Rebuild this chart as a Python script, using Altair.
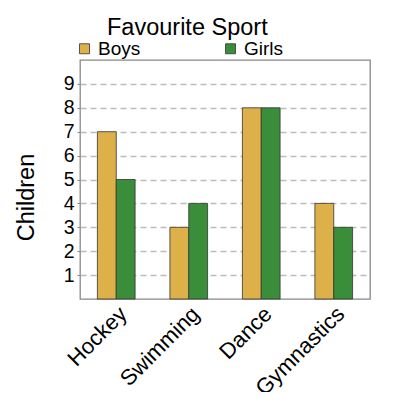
import altair as alt
import pandas as pd

sports = ["Hockey", "Swimming", "Dance", "Gymnastics"]
boys = [7, 3, 8, 4]
girls = [5, 4, 8, 3]
groups = ["Boys", "Girls"]
colors = ["#DDB04A", "#3A8E3A"]
y_ticks = [1, 2, 3, 4, 5, 6, 7, 8, 9]

rows = []
for s, b, g in zip(sports, boys, girls):
    rows.append({"Sport": s, "Group": "Boys", "Children": b})
    rows.append({"Sport": s, "Group": "Girls", "Children": g})
df = pd.DataFrame(rows)

font = "Liberation Sans"

chart = alt.Chart(df).mark_bar(stroke="#333333", strokeWidth=0.8).encode(
    x=alt.X("Sport:N", sort=sports, title=None,
            scale=alt.Scale(paddingInner=0.48, paddingOuter=0.24),
            axis=alt.Axis(labelAngle=-45, labelAlign="right", labelBaseline="top",
                          labelFontSize=22, labelFont=font, labelColor="black",
                          domain=False, ticks=False, grid=False, labelPadding=4)),
    xOffset=alt.XOffset("Group:N", sort=groups),
    y=alt.Y("Children:Q", title="Children",
            scale=alt.Scale(domain=[0, 10], nice=False),
            axis=alt.Axis(values=y_ticks, labelFontSize=19.5, labelFont=font,
                          labelColor="black", titleFontSize=23.5, titleFont=font,
                          titleFontWeight="normal", titleColor="black",
                          titleX=-47, titleY=137, titleBaseline="alphabetic",
                          titleAngle=270, titleAlign="center",
                          domain=False, tickSize=3, tickColor="#888888",
                          grid=True, gridDash=[6, 4], gridColor="#BBBBBB",
                          gridWidth=1.3, labelPadding=3)),
    color=alt.Color("Group:N", sort=groups,
                    scale=alt.Scale(domain=groups, range=colors),
                    legend=alt.Legend(title=None, orient="none", legendX=-5, legendY=-21,
                                      direction="horizontal", symbolType="square",
                                      symbolSize=100, symbolStrokeColor="#333333",
                                      symbolStrokeWidth=0.8, labelFontSize=19,
                                      labelFont=font, labelColor="black",
                                      columnPadding=80, labelOffset=4)),
).properties(
    width=290,
    height=239,
    autosize=alt.AutoSizeParams(type="none"),
    padding={"left": 72, "top": 52, "right": 22, "bottom": 93},
    title=alt.Title("Favourite Sport", fontSize=23.5, font=font, fontWeight="normal",
                    color="black", anchor="start", frame="group", dx=27, offset=0),
).configure_view(
    stroke="#888888", strokeWidth=1.3
)

chart.save("out.html", embed_options={"renderer": "svg", "actions": False})
